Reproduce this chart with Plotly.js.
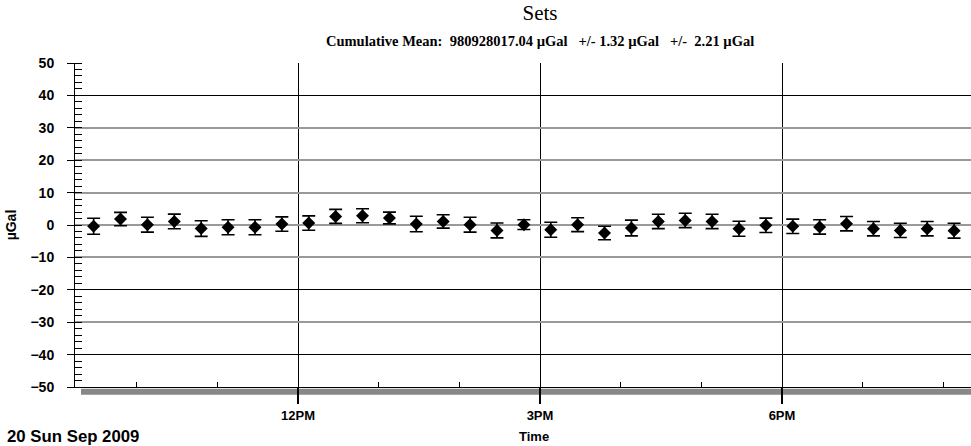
<!DOCTYPE html>
<html>
<head>
<meta charset="utf-8">
<script src="https://cdn.plot.ly/plotly-3.0.1.min.js"></script>
<style>
  html, body { margin: 0; padding: 0; overflow: hidden; background: #fff; }
  #chart { width: 1010px; height: 446px; }
</style>
</head>
<body>
<div id="chart"></div>
<script>
// ---- data ----
const setTimes = [
  '2009-09-20 09:28', '2009-09-20 09:48', '2009-09-20 10:08', '2009-09-20 10:28',
  '2009-09-20 10:48', '2009-09-20 11:08', '2009-09-20 11:28', '2009-09-20 11:48',
  '2009-09-20 12:08', '2009-09-20 12:28', '2009-09-20 12:48', '2009-09-20 13:08',
  '2009-09-20 13:28', '2009-09-20 13:48', '2009-09-20 14:08', '2009-09-20 14:28',
  '2009-09-20 14:48', '2009-09-20 15:08', '2009-09-20 15:28', '2009-09-20 15:48',
  '2009-09-20 16:08', '2009-09-20 16:28', '2009-09-20 16:48', '2009-09-20 17:08',
  '2009-09-20 17:28', '2009-09-20 17:48', '2009-09-20 18:08', '2009-09-20 18:28',
  '2009-09-20 18:48', '2009-09-20 19:08', '2009-09-20 19:28', '2009-09-20 19:48',
  '2009-09-20 20:08'
];
const setValues = [
  -0.4, 1.85, 0.1, 1.1, -1.1, -0.7, -0.7, 0.3, 0.6, 2.65,
  2.87, 2.16, 0.3, 1.1, 0.1, -1.67, 0.1, -1.45, 0.1, -2.47, -0.93,
  1.1, 1.4, 1.1, -1.15, -0.1, -0.4, -0.6, 0.4, -1.15, -1.67, -1.15, -1.75
];
const setErrors = [
  2.47, 2.06, 2.3, 2.26, 2.42, 2.31, 2.31, 2.21, 2.21, 2.16,
  2.16, 1.8, 2.4, 2.06, 2.31, 2.31, 1.5, 2.31, 2.16, 2.1, 2.42,
  2.21, 2.21, 2.21, 2.31, 2.21, 2.21, 2.21, 2.21, 2.21, 2.21, 2.21, 2.31
];
const xRange = ['2009-09-20 09:14:08', '2009-09-20 20:45:52'];
const xTickVals = ['2009-09-20 12:00', '2009-09-20 15:00', '2009-09-20 18:00'];
const xTickText = ['12PM', '3PM', '6PM'];
const yTickVals = [50, 40, 30, 20, 10, 0, -10, -20, -30, -40, -50];
const yGrayGrid = [50, 30, 20, 10, 0, -10, -30];
const yBlackGrid = [40, -20, -40];
const chartTitle = 'Sets';
const subTitle = 'Cumulative Mean:\u00A0 980928017.04 \u00B5Gal \u00A0 +/- 1.32 \u00B5Gal \u00A0 +/-\u00A0 2.21 \u00B5Gal';
const dateLabel = '20 Sun Sep 2009';
const xTitle = 'Time';
const yTitle = '\u00B5Gal';

const sans = 'Liberation Sans, Arial, sans-serif';
const serif = 'Liberation Serif, Times New Roman, serif';

const traces = [
  {
    x: setTimes, y: setValues, type: 'scatter', mode: 'markers',
    marker: { symbol: 'diamond', size: 10, color: '#000' },
    error_y: { type: 'data', array: setErrors, visible: true, color: '#000', thickness: 1.6, width: 6.5 },
    showlegend: false, hoverinfo: 'x+y'
  },
  { x: [setTimes[0]], y: [0], yaxis: 'y2', mode: 'markers', marker: { opacity: 0 }, hoverinfo: 'skip', showlegend: false },
  { x: [setTimes[0]], y: [0], yaxis: 'y3', mode: 'markers', marker: { opacity: 0 }, hoverinfo: 'skip', showlegend: false }
];

const layout = {
  width: 1010, height: 446,
  margin: { l: 75, r: 5, t: 63, b: 59 },
  paper_bgcolor: '#fff', plot_bgcolor: '#fff',
  font: { family: sans, color: '#000' },
  showlegend: false,
  title: {
    text: chartTitle, font: { family: serif, size: 21, color: '#000' },
    x: 0.5, xref: 'paper', xanchor: 'center',
    y: 1 - 13 / 446, yref: 'container', yanchor: 'middle'
  },
  xaxis: {
    type: 'date', range: xRange,
    tickvals: xTickVals, ticktext: xTickText,
    ticks: 'outside', ticklen: 16, tickwidth: 2, tickcolor: '#000',
    tickfont: { family: sans, size: 13, color: '#000', weight: 700 },
    showgrid: true, gridcolor: '#000', gridwidth: 1,
    showline: true, linecolor: '#000', linewidth: 1,
    zeroline: false,
    minor: { ticks: 'inside', dtick: 3600000, tick0: '2009-09-20 00:00', ticklen: 5, tickwidth: 1, tickcolor: '#000', showgrid: false },
    automargin: false, fixedrange: true
  },
  yaxis: {
    range: [-50, 50], tickvals: yTickVals,
    ticks: 'outside', ticklen: 7, tickwidth: 1, tickcolor: '#000',
    tickfont: { family: sans, size: 14, color: '#000', weight: 700 },
    ticklabelstandoff: 10,
    showgrid: false, zeroline: false,
    showline: true, linecolor: '#000', linewidth: 1,
    minor: { ticks: 'inside', dtick: 2, tick0: 0, ticklen: 7, tickwidth: 1, tickcolor: '#000', showgrid: false },
    title: { text: yTitle, font: { family: sans, size: 14, color: '#000', weight: 700 }, standoff: 10 },
    automargin: false, fixedrange: true
  },
  yaxis2: {
    overlaying: 'y', range: [-50, 50], tickvals: yGrayGrid, showticklabels: false, ticks: '',
    showgrid: true, gridcolor: '#999', gridwidth: 2, showline: false, zeroline: false, fixedrange: true
  },
  yaxis3: {
    overlaying: 'y', range: [-50, 50], tickvals: yBlackGrid, showticklabels: false, ticks: '',
    showgrid: true, gridcolor: '#000', gridwidth: 1, showline: false, zeroline: false, fixedrange: true
  },
  shapes: [
    { type: 'rect', xref: 'paper', yref: 'paper', x0: 6 / 930, x1: 1.01, y0: -7.7 / 324, y1: -1.7 / 324,
      fillcolor: '#888', line: { width: 0 }, layer: 'below' }
  ],
  annotations: [
    { text: subTitle, xref: 'paper', yref: 'paper', x: 0.5, y: (387.3 - 41) / 324,
      xanchor: 'center', yanchor: 'middle', showarrow: false,
      font: { family: serif, size: 14.5, color: '#000', weight: 700 } },
    { text: dateLabel, xref: 'paper', yref: 'paper', x: -70 / 930, y: (387.3 - 437) / 324,
      xanchor: 'left', yanchor: 'middle', showarrow: false,
      font: { family: sans, size: 16.8, color: '#000', weight: 700 } },
    { text: xTitle, xref: 'paper', yref: 'paper', x: (534 - 75) / 930, y: (387.3 - 437) / 324,
      xanchor: 'center', yanchor: 'middle', showarrow: false,
      font: { family: sans, size: 13, color: '#000', weight: 700 } }
  ]
};

Plotly.newPlot('chart', traces, layout, { displayModeBar: false, staticPlot: true });
</script>
</body>
</html>
